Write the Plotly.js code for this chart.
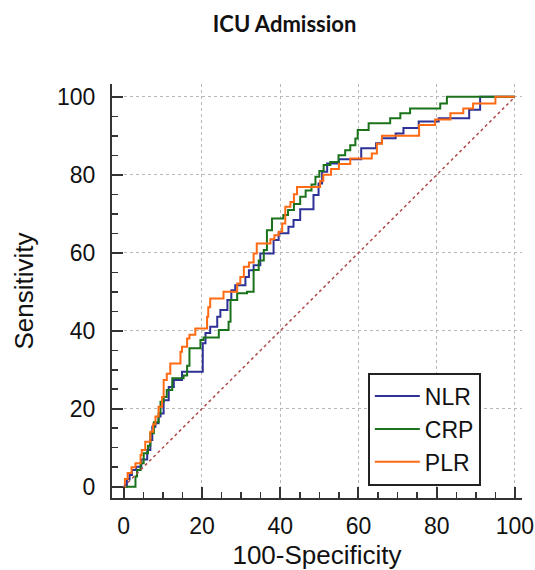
<!DOCTYPE html>
<html><head><meta charset="utf-8">
<script src="https://cdn.plot.ly/plotly-3.0.1.min.js"></script>
<style>html,body{margin:0;padding:0;background:#fff}#chart{width:535px;height:570px}</style>
</head><body><div id="chart"></div><script>
// ROC curves (100-Specificity, Sensitivity)
const nlrX = [0, 0.8, 1.5, 2.1, 3.2, 4.5, 6.0, 6.8, 7.3, 8.1, 8.9, 9.4, 10.2, 11.5, 12.8, 14.9, 20.2, 20.9, 22.1, 23.9, 24.7, 26.5, 27.5, 28.5, 31.1, 32.0, 33.2, 34.9, 38.3, 39.6, 42.1, 43.4, 45.1, 48.5, 49.8, 50.7, 52.0, 55.0, 60.7, 64.5, 66.0, 69.5, 71.5, 75.4, 80.5, 88.3, 91.1, 100];
const nlrY = [0, 2.0, 3.0, 4.3, 5.1, 7.0, 9.4, 12.0, 15.4, 16.3, 18.0, 18.8, 22.2, 25.6, 27.4, 29.5, 36.8, 39.4, 41.0, 43.6, 45.3, 47.9, 50.4, 51.7, 53.8, 55.5, 56.8, 59.8, 63.3, 65.0, 66.7, 68.4, 71.2, 74.8, 77.8, 80.8, 82.9, 84.0, 86.8, 88.1, 89.4, 90.6, 92.0, 93.7, 94.5, 96.7, 100, 100];

const crpX = [0, 3.0, 3.4, 4.3, 5.1, 6.2, 6.8, 7.7, 8.9, 9.4, 10.2, 11.0, 12.4, 15.3, 16.2, 16.8, 19.6, 20.4, 24.3, 26.8, 27.3, 29.0, 31.5, 33.2, 34.5, 35.8, 36.6, 37.9, 40.8, 42.0, 43.5, 45.1, 46.5, 48.0, 49.0, 50.0, 51.1, 52.8, 54.9, 56.6, 57.9, 59.2, 59.8, 62.6, 68.1, 70.7, 73.2, 80.9, 82.6, 100];
const crpY = [0, 2.6, 4.3, 6.0, 8.6, 10.5, 13.7, 16.5, 18.8, 21.8, 23.0, 24.8, 27.8, 28.5, 31.0, 35.5, 37.6, 38.3, 40.2, 42.3, 47.9, 49.6, 50.0, 55.6, 58.0, 60.7, 65.8, 68.8, 69.7, 71.0, 72.5, 74.4, 76.0, 77.5, 79.5, 81.0, 82.5, 83.3, 85.0, 86.3, 87.6, 89.3, 91.5, 93.2, 94.5, 95.8, 97.0, 98.3, 100, 100];

const plrX = [0, 0.3, 1.0, 2.0, 3.0, 4.3, 4.6, 5.5, 6.8, 7.5, 8.1, 8.9, 9.8, 10.2, 11.0, 11.9, 14.5, 14.9, 16.2, 16.8, 18.3, 21.3, 21.6, 22.1, 25.5, 29.0, 29.8, 30.7, 32.0, 33.2, 34.0, 37.5, 38.5, 39.6, 40.5, 41.3, 42.6, 43.5, 44.3, 50.2, 51.0, 53.0, 55.0, 57.9, 63.4, 64.7, 66.0, 75.5, 79.6, 83.5, 86.8, 89.3, 95.0, 100];
const plrY = [0, 2.0, 3.5, 5.0, 6.0, 8.1, 9.4, 11.5, 14.1, 16.0, 18.0, 20.5, 23.0, 27.4, 29.0, 31.6, 34.6, 35.9, 38.0, 39.0, 40.6, 43.6, 46.0, 48.3, 50.0, 52.1, 53.8, 56.4, 57.5, 59.8, 62.4, 63.5, 64.5, 65.4, 67.5, 71.8, 73.0, 75.0, 76.9, 78.5, 80.0, 81.5, 82.8, 84.2, 85.5, 88.0, 90.0, 92.8, 94.2, 95.8, 97.0, 98.3, 100, 100];

const diagX = [0, 100];
const diagY = [0, 100];

const tickVals = [0, 20, 40, 60, 80, 100];
const gridVals = [20, 40, 60, 80, 100];
const seriesNames = ['NLR', 'CRP', 'PLR'];

const FONT = 'Liberation Sans, Arial, sans-serif';
const xr = [-3, 101.8], yr = [-2.9, 103.3];

const traces = [
  {x: diagX, y: diagY, xaxis: 'x2', yaxis: 'y2', mode: 'lines', showlegend: false, hoverinfo: 'skip',
   line: {color: '#b04a4a', width: 1.5, dash: 'dot'}},
  {x: nlrX, y: nlrY, name: seriesNames[0], mode: 'lines', line: {shape: 'hv', color: '#2e3196', width: 2}},
  {x: crpX, y: crpY, name: seriesNames[1], mode: 'lines', line: {shape: 'hv', color: '#1a731a', width: 2}},
  {x: plrX, y: plrY, name: seriesNames[2], mode: 'lines', line: {shape: 'hv', color: '#ff6a12', width: 2}}
];

const axisCommon = {
  showgrid: false, zeroline: false, showline: true, linecolor: '#333', linewidth: 2,
  ticks: 'inside', ticklen: 11, tickwidth: 2, tickcolor: '#333',
  tickmode: 'array', tickvals: tickVals,
  tickfont: {family: FONT, size: 23, color: '#111'},
  minor: {dtick: 5, tick0: 0, ticks: 'inside', ticklen: 6, tickwidth: 1.5, tickcolor: '#333', showgrid: false},
  fixedrange: true
};

const layout = {
  width: 535, height: 570,
  margin: {l: 112, r: 13, t: 84, b: 72},
  paper_bgcolor: '#fff', plot_bgcolor: '#fff',
  showlegend: true,
  title: {text: 'ICU Admission', font: {family: 'Lato, Open Sans, sans-serif', size: 22, color: '#111', weight: 700},
          xref: 'container', x: 0.532, xanchor: 'center', yref: 'container', y: 0.958, yanchor: 'middle'},
  xaxis: Object.assign({}, axisCommon, {range: xr, ticklabelstandoff: 6,
    title: {text: '100-Specificity', font: {family: FONT, size: 26, color: '#111'}, standoff: 12}}),
  yaxis: Object.assign({}, axisCommon, {range: yr, ticklabelstandoff: 10,
    title: {text: 'Sensitivity', font: {family: FONT, size: 26, color: '#111'}, standoff: 16}}),
  xaxis2: {range: xr, overlaying: 'x', anchor: 'y2', showgrid: true, gridcolor: '#b8b8b8', griddash: 'dot', gridwidth: 1,
           tickmode: 'array', tickvals: gridVals, showticklabels: false, ticks: '', zeroline: false, showline: false, fixedrange: true},
  yaxis2: {range: yr, overlaying: 'y', anchor: 'x2', showgrid: true, gridcolor: '#b8b8b8', griddash: 'dot', gridwidth: 1,
           tickmode: 'array', tickvals: gridVals, showticklabels: false, ticks: '', zeroline: false, showline: false, fixedrange: true},
  legend: {x: 0.624, y: 0.03, xanchor: 'left', yanchor: 'bottom', bgcolor: '#fff', bordercolor: '#222', borderwidth: 2,
           font: {family: FONT, size: 23, color: '#111'}, itemwidth: 45, entrywidth: 125, tracegroupgap: 0}
};

Plotly.newPlot('chart', traces, layout, {displayModeBar: false, staticPlot: true});
</script></body></html>
